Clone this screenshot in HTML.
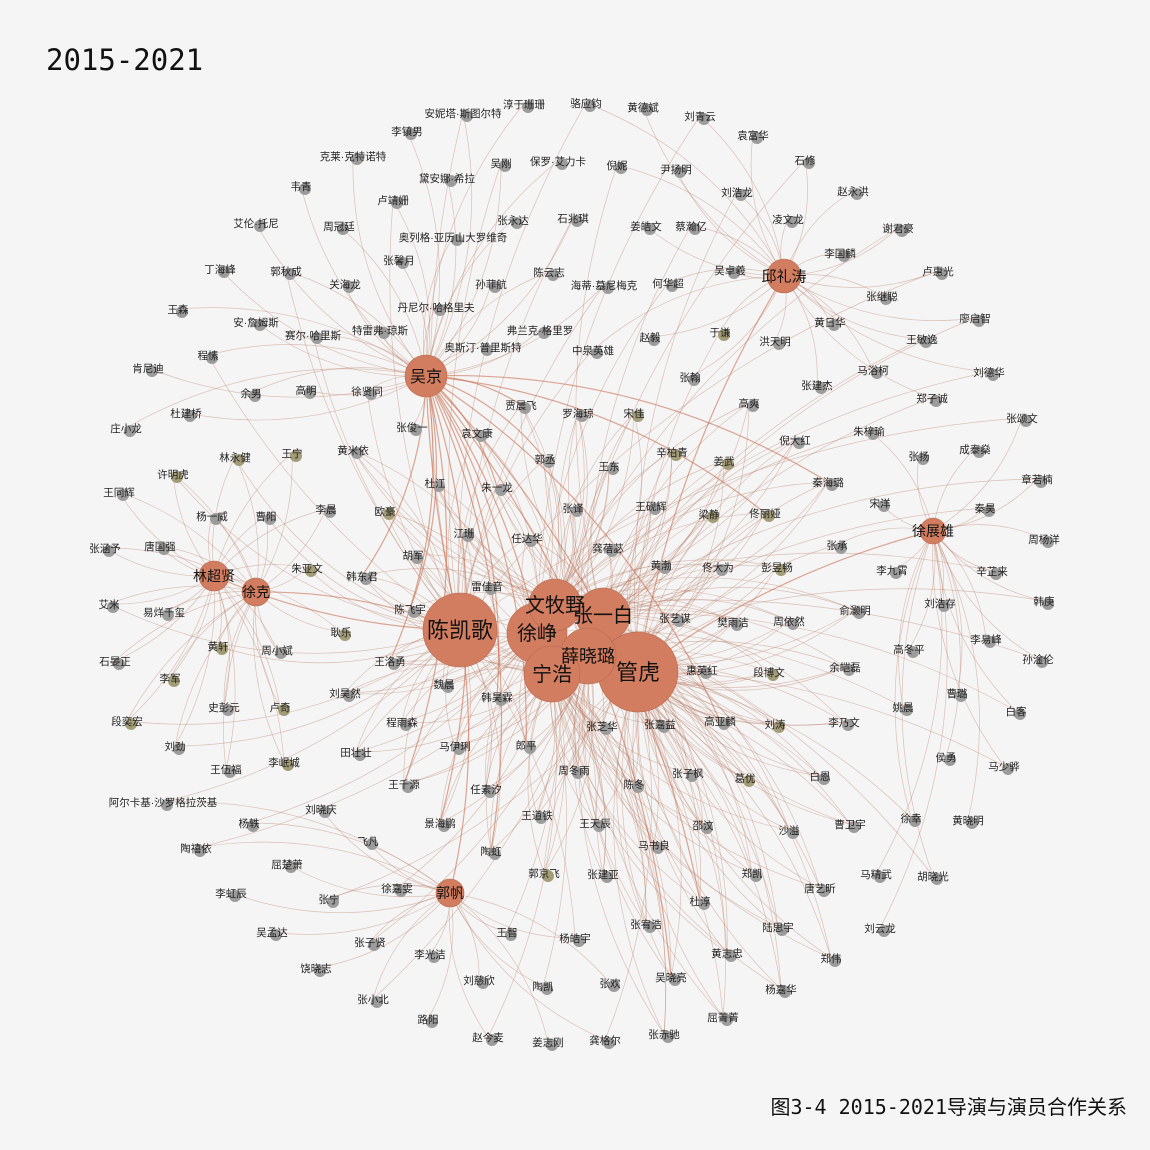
<!DOCTYPE html>
<html><head><meta charset="utf-8"><style>
html,body{margin:0;padding:0;background:#f5f5f5;}
svg{display:block;font-family:"Liberation Sans","Noto Sans CJK SC",sans-serif;}
</style></head><body>
<svg id="chart" width="1150" height="1150" viewBox="0 0 1150 1150">
<rect width="1150" height="1150" fill="#f5f5f5"/>
<text x="46" y="70" font-size="29" fill="#111" style="font-family:'DejaVu Sans Mono','Liberation Mono',monospace">2015-2021</text>
<g id="edges"></g>
<g id="nodes"></g>
<text x="1127" y="1114" font-size="20" text-anchor="end" fill="#111" style="font-family:'DejaVu Sans Mono','Noto Sans CJK SC',monospace">图3-4 2015-2021导演与演员合作关系</text>
</svg>
<script>
// Directors (hubs): name, x, y, radius, label size
const hubs = [
["陈凯歌",460,630,37,22],["管虎",638,672,40,22],["徐峥",537,633,30,20],["文牧野",555,605,26,20],
["张一白",603,615,27,20],["薛晓璐",588,656,28,18],["宁浩",552,674,28,20],["吴京",426,376,21,16],
["邱礼涛",784,276,17,15],["徐展雄",933,531,13,14],["林超贤",214,576,15,14],["徐克",256,592,14,14],["郭帆",450,893,14,14]
];
const centralHubs = [0,1,2,3,4,5,6];
// Actor groups: name, x, y, olive(1)/gray(0)
const wuJingActors = [["安妮塔·斯图尔特",463,113,0],["淳于珊珊",524,104,0],["李镇男",407,131,0],["克莱·克特诺特",353,156,0],["吴刚",501,163,0],["保罗·艾力卡",558,161,0],["黛安娜·希拉",447,178,0],["韦青",301,186,0],["卢靖姗",393,200,0],["艾伦·托尼",256,223,0],["周冠廷",339,226,0],["张永达",513,220,0],["石兆琪",573,218,0],["奥列格·亚历山大罗维奇",453,237,0],["张馨月",399,260,0],["丁海峰",220,269,0],["郭秋成",286,271,0],["关海龙",345,284,0],["孙菲航",491,284,0],["陈云志",549,272,0],["海蒂·墓尼梅克",604,285,0],["丹尼尔·哈格里夫",436,307,0],["王森",178,309,0],["安·詹姆斯",256,322,0],["赛尔·哈里斯",313,335,0],["特雷弗·琼斯",380,330,0],["弗兰克·格里罗",540,330,0],["奥斯汀·普里斯特",483,347,0],["程愫",208,355,0],["肯尼迪",148,368,0],["余男",251,393,0],["高明",306,390,0],["徐贤同",367,391,0],["杜建桥",186,413,0],["庄小龙",126,428,0],["张俊一",412,427,0]];
const qiuActors = [["骆应钧",586,103,0],["黄德斌",643,107,0],["刘青云",700,116,0],["袁富华",753,135,0],["倪妮",617,165,0],["尹扬明",676,169,0],["石修",805,160,0],["赵永洪",853,191,0],["刘浩龙",737,192,0],["凌文龙",788,219,0],["谢君豪",898,228,0],["姜皓文",646,226,0],["蔡瀚亿",691,226,0],["李国麟",840,253,0],["卢惠光",938,271,0],["吴卓羲",730,270,0],["何华超",668,283,0],["张继聪",882,296,0],["廖启智",975,318,0],["黄日华",830,322,0],["王敏逸",922,339,0],["洪天明",775,341,0],["于谦",720,332,1],["马浴柯",873,370,0],["刘德华",989,372,0],["张建杰",817,385,0],["郑子诚",932,398,0],["赵毅",650,337,0],["中泉英雄",593,350,0],["张翰",690,377,0]];
const xuZhanActors = [["张颂文",1022,418,0],["成泰燊",975,449,0],["朱梓瑜",869,431,0],["张扬",919,456,0],["章若楠",1037,479,0],["宋洋",880,503,0],["秦昊",985,508,0],["周杨洋",1044,539,0],["张承",837,545,0],["李九霄",892,570,0],["辛芷来",992,571,0],["刘浩存",940,603,0],["韩庚",1044,601,0],["李易峰",986,639,0],["孙淦伦",1038,659,0],["高冬平",909,649,0],["姚晨",903,707,0],["曹璐",957,693,0],["白客",1016,711,0],["侯勇",946,757,0],["马少骅",1004,766,0],["黄晓明",968,820,0],["徐幸",911,818,0],["马精武",876,874,0],["胡晓光",933,876,0],["刘云龙",880,928,0]];
const linActors = [["许明虎",173,474,1],["王同辉",119,492,0],["杨一威",212,516,0],["曹阳",266,516,0],["张涵予",105,548,0],["唐国强",160,546,0],["艾米",109,604,0],["易烊千玺",164,612,0],["石晏正",115,661,0],["黄轩",218,646,1],["周小斌",277,650,0],["李军",170,678,1],["段奕宏",127,721,1],["史彭元",224,707,0],["卢奇",280,707,1],["刘劲",175,746,0],["王伍福",226,769,0],["李岷城",284,762,1],["林永健",235,457,1],["王宁",292,453,1],["李晨",326,509,0],["朱亚文",307,568,1],["耿乐",341,632,1]];
const guoActors = [["阿尔卡基·沙罗格拉茨基",163,802,0],["刘晓庆",321,809,0],["杨轶",249,823,0],["飞凡",368,841,0],["陶禧依",196,848,0],["屈楚萧",287,864,0],["徐嘉雯",397,888,0],["李虹辰",231,893,0],["张宁",329,899,0],["吴孟达",272,932,0],["王智",507,932,0],["李光洁",430,954,0],["张子贤",370,942,0],["饶晓志",316,968,0],["杨皓宇",575,938,0],["刘慈欣",479,980,0],["陶凯",543,986,0],["张欢",610,983,0],["张小北",373,999,0],["路阳",428,1019,0],["赵今麦",488,1037,0],["姜志刚",548,1042,0],["龚格尔",605,1040,0]];
const centralActors = [["贾晨飞",521,405,0],["罗海琼",578,413,0],["宋佳",634,413,1],["袁文康",477,433,0],["黄米依",353,450,0],["郭丞",545,459,0],["王东",609,466,0],["辛柏青",672,452,1],["姜武",724,461,1],["杜江",435,483,0],["朱一龙",497,487,0],["欧豪",385,511,1],["张译",573,508,0],["王砚辉",651,506,0],["梁静",709,514,1],["佟丽娅",765,513,1],["江珊",464,533,0],["任达华",527,538,0],["胡军",413,555,0],["龚蓓苾",608,548,0],["韩东君",362,576,0],["黄渤",661,565,0],["佟大为",718,567,0],["彭昱畅",777,567,1],["雷佳音",487,586,0],["陈飞宇",410,609,0],["张艺谋",675,618,0],["樊雨洁",733,622,0],["周依然",789,621,0],["俞灏明",855,610,0],["王洛勇",390,661,0],["惠英红",702,670,0],["段博文",769,672,1],["余皑磊",845,667,0],["魏晨",444,684,0],["韩昊霖",497,697,0],["刘昊然",345,693,0],["程雨森",402,722,0],["张芝华",602,726,0],["张嘉益",660,724,0],["高亚麟",720,721,0],["刘涛",775,724,1],["李乃文",844,722,0],["田壮壮",356,752,0],["马伊琍",455,746,0],["郎平",526,745,0],["周冬雨",574,770,0],["张子枫",688,773,0],["葛优",745,778,1],["白恩",820,776,0],["王千源",404,784,0],["任素汐",486,789,0],["陈冬",634,784,0],["王道铁",537,815,0],["王天辰",595,823,0],["景海鹏",440,823,0],["邵汶",703,825,0],["沙溢",789,830,0],["曹卫宇",850,824,0],["马书良",654,845,0],["陶虹",491,851,0],["郭京飞",544,873,1],["张建亚",603,874,0],["郑凯",752,873,0],["唐艺昕",820,888,0],["杜淳",700,901,0],["张宥浩",646,924,0],["陆思宇",778,927,0],["黄志忠",727,953,0],["郑伟",831,958,0],["吴晓亮",671,977,0],["杨嘉华",781,989,0],["张赤驰",664,1034,0],["屈菁菁",723,1017,0],["倪大红",795,440,0],["秦海璐",828,482,0],["高爽",749,403,0]];

const NS="http://www.w3.org/2000/svg";
const eg=document.getElementById('edges'), ng=document.getElementById('nodes');
function edge(a,b,bend,k){
  const dx=b[1]-a[1], dy=b[2]-a[2];
  const mx=(a[1]+b[1])/2 - dy*bend, my=(a[2]+b[2])/2 + dx*bend;
  const p=document.createElementNS(NS,'path');
  p.setAttribute('d',`M${a[1]},${a[2]} Q${mx},${my} ${b[1]},${b[2]}`);
  p.setAttribute('fill','none');
  p.setAttribute('stroke', k ? 'rgba(200,110,80,0.6)' : 'rgba(180,120,95,0.42)');
  p.setAttribute('stroke-width', k ? '1.2' : '0.7');
  
  
  eg.appendChild(p);
}
function link(list,hubIdx){list.forEach((a,i)=>edge(a,hubs[hubIdx],(i%2?0.18:-0.18),0));}
link(wuJingActors,7); link(qiuActors,8); link(xuZhanActors,9);
linActors.forEach((a,i)=>{edge(a,hubs[10],0.15,0); edge(a,hubs[11],-0.15,0); if(i%3==0) edge(a,hubs[0],0.2,0);});
link(guoActors,12);
[qiuActors,xuZhanActors,guoActors].forEach(list=>list.forEach((a,i)=>{ if(i%2==0) edge(a,hubs[centralHubs[i%7]],0.15,0);}));
wuJingActors.forEach((a,i)=>{ if(i%4==0) edge(a,hubs[0],0.12,0);});
centralActors.forEach((a,i)=>{
  const d=centralHubs.map(h=>[h,Math.hypot(hubs[h][1]-a[1],hubs[h][2]-a[2])]).sort((p,q)=>p[1]-q[1]);
  for(let j=0;j<4;j++) edge(a,hubs[d[j][0]],(j%2?0.2:-0.2),0);
  if(i%5==0) edge(a,hubs[7],0.15,1);
});
edge(hubs[7],hubs[0],0.05,1); edge(hubs[7],hubs[2],-0.1,1); edge(hubs[8],hubs[1],0.1,1);
edge(hubs[9],hubs[1],0.1,1); edge(hubs[10],hubs[0],0.1,1); edge(hubs[11],hubs[0],-0.1,1); edge(hubs[12],hubs[0],0.1,1);

function actor(a){
  const c=document.createElementNS(NS,'circle');
  c.setAttribute('cx',a[1]+4); c.setAttribute('cy',a[2]+3); c.setAttribute('r',6);
  c.setAttribute('fill',a[3]?'#a39d77':'#9c9c9c');
  
  
  ng.appendChild(c);
  const t=document.createElementNS(NS,'text');
  t.setAttribute('x',a[1]); t.setAttribute('y',a[2]+4);
  t.setAttribute('font-size','10.5'); t.setAttribute('text-anchor','middle'); t.setAttribute('fill','#222');
  t.textContent=a[0];
  
  
  ng.appendChild(t);
}
[wuJingActors,qiuActors,xuZhanActors,linActors,guoActors,centralActors].forEach(l=>l.forEach(actor));
hubs.forEach(h=>{
  const c=document.createElementNS(NS,'circle');
  c.setAttribute('cx',h[1]); c.setAttribute('cy',h[2]); c.setAttribute('r',h[3]);
  c.setAttribute('fill','#d27d60'); c.setAttribute('stroke','#b7684f'); c.setAttribute('stroke-width','0.6');
  
  
  ng.appendChild(c);
});
hubs.forEach(h=>{
  const t=document.createElementNS(NS,'text');
  t.setAttribute('x',h[1]); t.setAttribute('y',h[2]+h[4]*0.36);
  t.setAttribute('font-size',h[4]); t.setAttribute('text-anchor','middle'); t.setAttribute('fill','#111');
  t.textContent=h[0];
  
  
  ng.appendChild(t);
});
</script>
</body></html>
